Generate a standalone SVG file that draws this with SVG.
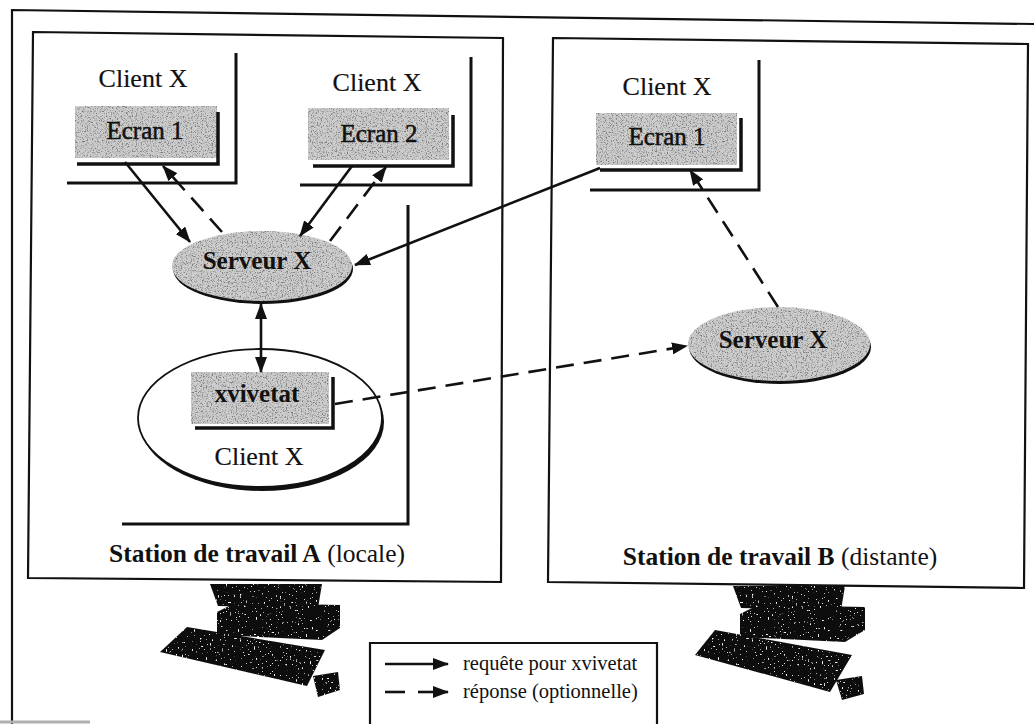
<svg xmlns="http://www.w3.org/2000/svg" width="1034" height="724" viewBox="0 0 1034 724">
  <defs>
    <style>
      .frame { fill: none; stroke: #111; stroke-width: 2.2; }
      .open { fill: none; stroke: #111; stroke-width: 3; }
      .shadow { fill: none; stroke: #111; stroke-width: 3.5; }
      .screen { fill: #cdcdcd; filter: url(#grain); }
      .label { font-family: "Liberation Serif", "Times New Roman", serif; fill: #111; text-anchor: middle; }
      .lbl-client { font-size: 26px; stroke: #111; stroke-width: 0.2; }
      .lbl-screen { font-size: 25px; stroke: #111; stroke-width: 0.5; }
      .lbl-bold { font-size: 25px; font-weight: bold; }
      .lbl-station { font-size: 25.5px; }
      .lbl-legend { font-family: "Liberation Serif", "Times New Roman", serif; font-size: 20.5px; fill: #111; }
      .req { fill: none; stroke: #111; stroke-width: 2.6; marker-end: url(#head); }
      .rep { fill: none; stroke: #111; stroke-width: 2.6; stroke-dasharray: 18 10; marker-end: url(#head); }
      .pc { fill: #0d0d0d; filter: url(#speck); }
    </style>
    <!-- filled arrowhead shared by every connector -->
    <marker id="head" markerUnits="userSpaceOnUse" markerWidth="16" markerHeight="12" refX="15" refY="6" orient="auto">
      <path d="M0,0 L16,6 L0,12 Z" fill="#111"/>
    </marker>
    <marker id="tail" markerUnits="userSpaceOnUse" markerWidth="16" markerHeight="12" refX="1" refY="6" orient="auto">
      <path d="M16,0 L0,6 L16,12 Z" fill="#111"/>
    </marker>
    <!-- dark speckle texture over the gray screen fills -->
    <filter id="grain" x="0" y="0" width="1" height="1">
      <feTurbulence type="fractalNoise" baseFrequency="0.8" numOctaves="3" seed="4" result="n"/>
      <feColorMatrix in="n" type="matrix" values="0 0 0 0 0.2  0 0 0 0 0.2  0 0 0 0 0.2  4 0 0 0 -1.95" result="dots"/>
      <feComposite in="dots" in2="SourceAlpha" operator="in" result="d"/>
      <feMerge><feMergeNode in="SourceGraphic"/><feMergeNode in="d"/></feMerge>
    </filter>
    <!-- sparse white flecks on the black workstation drawings -->
    <filter id="speck" x="0" y="0" width="1" height="1">
      <feTurbulence type="fractalNoise" baseFrequency="0.5" numOctaves="2" seed="9" result="n"/>
      <feColorMatrix in="n" type="matrix" values="0 0 0 0 1  0 0 0 0 1  0 0 0 0 1  14 0 0 0 -9.6" result="w"/>
      <feComposite in="w" in2="SourceAlpha" operator="in" result="wi"/>
      <feMerge><feMergeNode in="SourceGraphic"/><feMergeNode in="wi"/></feMerge>
    </filter>
  </defs>

  <rect width="1034" height="724" fill="#fff"/>

  <!-- outer frame -->
  <g id="outer-frame">
    <path class="frame" d="M12,724 L12,10 L1034,24"/>
    <path d="M0,722 L90,722" stroke="#b0b0b0" stroke-width="3"/>
  </g>

  <!-- workstation A -->
  <g id="station-a">
    <path class="frame" d="M33,32 L503,38 L501,582 L28,578 Z"/>
    <text class="label lbl-station" x="257" y="562"><tspan font-weight="bold">Station de travail A</tspan> (locale)</text>
  </g>

  <!-- workstation B -->
  <g id="station-b">
    <path class="frame" d="M553,38 L1028,44 L1024,588 L548,582 Z"/>
    <text class="label lbl-station" x="780" y="565"><tspan font-weight="bold">Station de travail B</tspan> (distante)</text>
  </g>

  <!-- local client boxes -->
  <g id="client-a1">
    <path class="open" d="M236,53 L236,183 L67,183"/>
    <text class="label lbl-client" x="143" y="87">Client X</text>
  </g>
  <g id="ecran-a1">
    <rect class="screen" x="75" y="106" width="142" height="52"/>
    <path class="shadow" d="M218,112 L218,164 L77,164"/>
    <text class="label lbl-screen" x="145" y="139">Ecran 1</text>
  </g>

  <g id="client-a2">
    <path class="open" d="M471,57 L471,185 L300,185"/>
    <text class="label lbl-client" x="377" y="91">Client X</text>
  </g>
  <g id="ecran-a2">
    <rect class="screen" x="308" y="108" width="141" height="52"/>
    <path class="shadow" d="M453,115 L453,166 L313,166"/>
    <text class="label lbl-screen" x="379" y="142">Ecran 2</text>
  </g>

  <g id="client-a3">
    <path class="open" d="M408,205 L408,524 L122,524"/>
  </g>

  <g id="serveur-a">
    <ellipse cx="263" cy="269" rx="90" ry="35" fill="#111"/>
    <ellipse class="screen" cx="262" cy="266" rx="90" ry="35"/>
    <text class="label lbl-bold" x="257" y="269">Serveur X</text>
  </g>

  <g id="client-xvivetat">
    <ellipse cx="262" cy="422" rx="122" ry="69" fill="#111"/>
    <ellipse cx="260" cy="418" rx="122" ry="69" fill="#fff" stroke="#111" stroke-width="1.8"/>
    <text class="label lbl-client" x="259" y="465">Client X</text>
  </g>
  <g id="xvivetat">
    <rect class="screen" x="191" y="372" width="138" height="52"/>
    <path class="shadow" d="M333,377 L333,428 L195,428"/>
    <text class="label lbl-bold" x="257" y="402">xvivetat</text>
  </g>

  <!-- remote client and server -->
  <g id="client-b">
    <path class="open" d="M759,60 L759,190 L590,190"/>
    <text class="label lbl-client" x="667" y="95">Client X</text>
  </g>
  <g id="ecran-b1">
    <rect class="screen" x="596" y="113" width="141" height="52"/>
    <path class="shadow" d="M741,118 L741,170 L600,170"/>
    <text class="label lbl-screen" x="667" y="145">Ecran 1</text>
  </g>

  <g id="serveur-b">
    <ellipse cx="780" cy="347" rx="91" ry="37" fill="#111"/>
    <ellipse class="screen" cx="779" cy="344" rx="91" ry="37"/>
    <text class="label lbl-bold" x="773" y="348">Serveur X</text>
  </g>

  <!-- connectors -->
  <g id="connectors">
    <path class="req" d="M125,162 L190,242"/>
    <path class="rep" d="M222,232 L163,166"/>
    <path class="req" d="M352,166 L300,236"/>
    <path class="rep" d="M330,241 L386,167"/>
    <path class="req" d="M600,168 L355,265"/>
    <path class="rep" d="M778,307 L690,170"/>
    <path class="rep" d="M335,404 L687,346"/>
    <path class="req" d="M261,304 L261,372" marker-start="url(#tail)"/>
  </g>

  <!-- workstation hardware -->
  <g id="computer-a">
    <path class="pc" d="M210,584 L322,584 L318,608 L218,606 Z"/>
    <path class="pc" d="M217,612 L235,603 L340,605 L340,628 L322,640 L217,635 Z"/>
    <path class="pc" d="M160,652 L187,627 L325,650 L307,686 Z"/>
    <path class="pc" d="M313,676 L338,672 L340,690 L318,697 Z"/>
  </g>
  <g id="computer-b">
    <path class="pc" d="M733,586 L845,586 L841,610 L741,608 Z"/>
    <path class="pc" d="M740,614 L758,605 L865,607 L865,630 L845,642 L740,637 Z"/>
    <path class="pc" d="M695,655 L715,630 L852,655 L830,692 Z"/>
    <path class="pc" d="M836,680 L862,676 L864,694 L842,700 Z"/>
  </g>

  <!-- legend -->
  <g id="legend">
    <path class="frame" d="M370,724 L370,643 L657,643 L657,724"/>
    <path class="req" d="M385,664 L448,664"/>
    <text class="lbl-legend" x="463" y="670">requête pour xvivetat</text>
    <path d="M385,692 L405,692" stroke="#111" stroke-width="2.6"/>
    <path class="req" d="M418,692 L448,692"/>
    <text class="lbl-legend" x="463" y="698">réponse (optionnelle)</text>
  </g>
</svg>
